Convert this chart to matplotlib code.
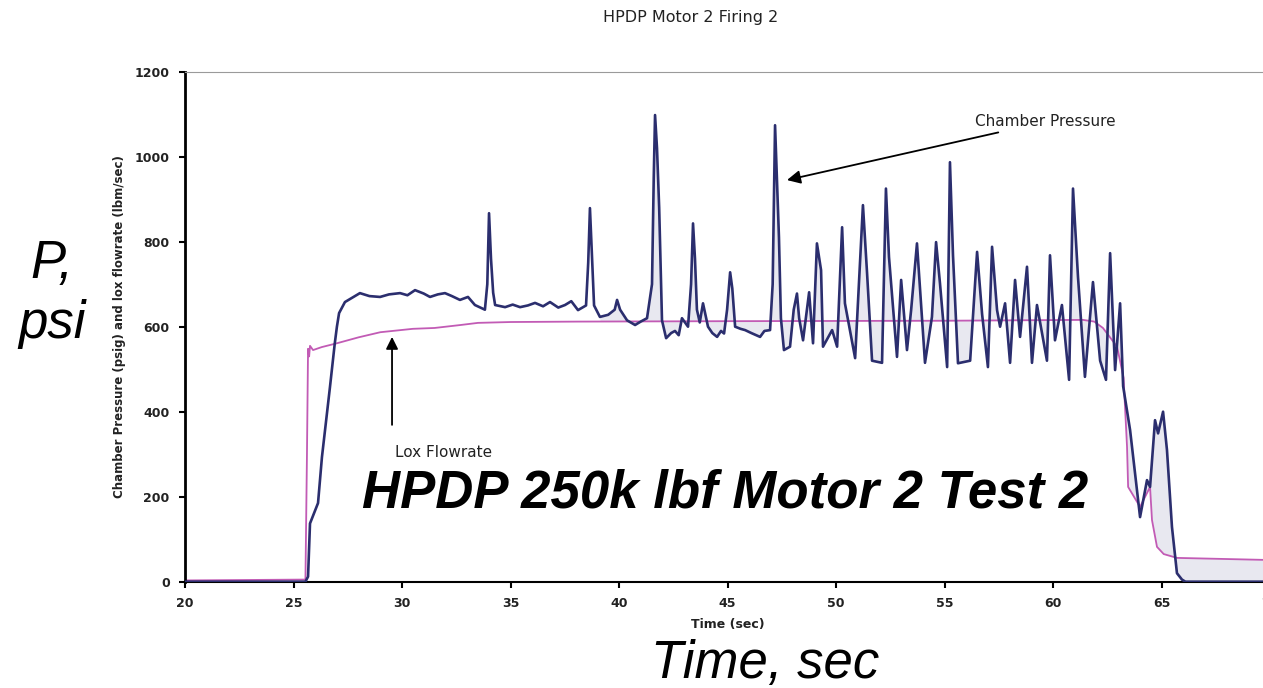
import matplotlib
matplotlib.use("Agg")

import matplotlib.pyplot as plt
import numpy as np

# ---------------------------------------------------------------------------
# Data (time in sec, value in psig / lbm/sec)
# ---------------------------------------------------------------------------
chamber_t = [
    20, 25.55, 25.67, 25.76, 26.13, 26.31, 26.68, 26.9, 27.0, 27.1, 27.37,
    28.06, 28.5, 28.99, 29.4, 29.91, 30.25, 30.6, 31.0, 31.29, 31.65, 31.98,
    32.3, 32.67, 33.04, 33.36, 33.82, 33.93, 34.01, 34.10, 34.20, 34.29,
    34.75, 35.1, 35.44, 35.8, 36.13, 36.5, 36.82, 37.2, 37.51, 37.8, 38.11,
    38.48, 38.58, 38.66, 38.75, 38.85, 39.12, 39.5, 39.8, 39.91, 40.05,
    40.37, 40.74, 41.0, 41.29, 41.52, 41.60, 41.66, 41.75, 41.85, 41.98,
    42.17, 42.4, 42.58, 42.75, 42.90, 43.18, 43.32, 43.41, 43.50, 43.59,
    43.72, 43.87, 44.10, 44.30, 44.52, 44.70, 44.84, 44.98, 45.12, 45.22,
    45.35, 45.6, 45.81, 46.1, 46.5, 46.7, 46.96, 47.08, 47.19, 47.28, 47.37,
    47.46, 47.60, 47.88, 48.05, 48.20, 48.30, 48.48, 48.76, 48.94, 49.12,
    49.31, 49.40, 49.82, 50.05, 50.28, 50.41, 50.88, 51.24, 51.43, 51.66,
    52.12, 52.30, 52.44, 52.81, 53.00, 53.27, 53.46, 53.73, 54.10, 54.42,
    54.61, 54.79, 55.12, 55.25, 55.39, 55.62, 56.18, 56.50, 56.73, 57.00,
    57.19, 57.42, 57.56, 57.79, 58.02, 58.25, 58.48, 58.80, 59.03, 59.26,
    59.72, 59.86, 60.09, 60.41, 60.74, 60.92, 61.15, 61.47, 61.84, 62.17,
    62.44, 62.63, 62.86, 63.09, 63.23, 63.55, 64.01, 64.33, 64.47, 64.70,
    64.84, 65.07, 65.25, 65.48, 65.71, 65.94, 66.1, 70,
]
chamber_p = [
    0, 0, 12, 137, 185, 293, 458, 560, 600, 632, 658,
    679, 672, 670, 676, 679, 674, 686, 678, 670, 676, 679,
    672, 663, 670, 651, 640, 700, 867, 760, 680, 651,
    646, 652, 646, 650, 656, 648, 658, 645, 651, 660, 639,
    650, 750, 879, 770, 650, 623, 628, 640, 663, 640,
    615, 604, 612, 620, 700, 950, 1098, 1020, 880, 615,
    573, 585, 590, 580, 620, 600, 700, 843, 760, 640,
    610, 655, 600, 585, 576, 590, 584, 640, 728, 690,
    600, 595, 592, 585, 576, 590, 592, 700, 1074, 940, 810,
    620, 545, 553, 640, 678, 620, 568, 681, 561, 796,
    733, 553, 592, 553, 834, 655, 526, 886, 726, 520,
    515, 925, 764, 529, 710, 545, 639, 796, 515, 623,
    799, 702, 505, 987, 768, 514, 520, 776, 630, 505,
    788, 639, 600, 655, 515, 710, 576, 741, 515, 651,
    520, 768, 568, 651, 475, 925, 717, 482, 705, 520,
    475, 773, 498, 655, 460, 357, 152, 239, 223, 380,
    349, 400, 310, 129, 20, 5, 0, 0,
]

lox_t = [
    20, 25.55, 25.62, 25.67, 25.72, 25.76, 25.9, 26.3, 27.0, 28.0, 29.0,
    30.5, 31.5, 32.7, 33.5, 35.0, 38.1, 45, 55, 61.38, 61.9, 62.30, 62.95,
    63.25, 63.41, 63.46, 64.01, 64.47, 64.56, 64.79, 65.1, 65.71, 70,
]
lox_v = [
    3, 5, 300, 548, 530, 555, 545, 552, 561, 575, 587,
    595, 597, 604, 609, 611, 612, 613, 614, 616, 612, 597, 553,
    480, 317, 223, 176, 223, 145, 82, 65, 56, 51,
]

x_ticks = list(range(20, 75, 5))
y_ticks = list(range(0, 1400, 200))

NAVY = "#2b2e6e"
PINK = "#c25bb5"
FILL = "#e8e8f0"

# ---------------------------------------------------------------------------
# Figure
# ---------------------------------------------------------------------------
fig = plt.figure(figsize=(12.63, 6.88), dpi=100)
ax = fig.add_axes([0.14648, 0.15451, 0.8591, 0.74128])

# shaded band between the two traces (burn region)
grid = np.union1d(chamber_t, lox_t)
c_i = np.interp(grid, chamber_t, chamber_p)
l_i = np.interp(grid, lox_t, lox_v)
ax.fill_between(grid, c_i, l_i, where=grid >= 39, color=FILL, lw=0,
                interpolate=True, zorder=1)

ax.plot(lox_t, lox_v, color=PINK, lw=1.3, zorder=2)
ax.plot(chamber_t, chamber_p, color=NAVY, lw=1.9, zorder=3)

ax.set_xlim(20, 70)
ax.set_ylim(0, 1200)
ax.set_xticks(x_ticks)
ax.set_yticks(y_ticks)
ax.tick_params(axis="both", direction="out", length=4, width=1.5,
               labelsize=9, pad=7)
for lbl in ax.get_xticklabels() + ax.get_yticklabels():
    lbl.set_fontweight("bold")
    lbl.set_color("#222222")

ax.spines["right"].set_visible(False)
ax.spines["left"].set_linewidth(2)
ax.spines["bottom"].set_linewidth(1.5)
ax.spines["top"].set_color("#9a9a9a")
ax.spines["top"].set_linewidth(0.8)
ax.spines["top"].set_linestyle((0, (2, 1)))

ax.set_ylabel("Chamber Pressure (psig) and lox flowrate (lbm/sec)",
              fontsize=8.5, fontweight="bold", labelpad=6, color="#222222")
ax.set_xlabel("Time (sec)", fontsize=9, fontweight="bold", labelpad=6,
              color="#222222")

fig.text(0.5465, 0.968, "HPDP Motor 2 Firing 2", ha="center", va="baseline",
         fontsize=11.5, color="#222222")

# annotations
ax.annotate("Chamber Pressure", xy=(47.74, 945), xytext=(56.4, 1082),
            ha="left", va="center", fontsize=11, color="#222222",
            arrowprops=dict(arrowstyle="-|>", color="black", lw=1.3,
                            mutation_scale=20, shrinkA=1, shrinkB=0))
ax.annotate("", xy=(29.54, 576), xytext=(29.54, 369),
            arrowprops=dict(arrowstyle="-|>", color="black", lw=1.3,
                            mutation_scale=18, shrinkA=0, shrinkB=0))
ax.text(29.68, 305, "Lox Flowrate", ha="left", va="center", fontsize=11,
        color="#222222")

# large overlay labels
big = dict(family="Liberation Sans", fontsize=38, style="italic",
           color="black")
fig.text(52 / 1263, 1 - 278 / 688, "P,", ha="center", va="baseline", **big)
fig.text(52 / 1263, 1 - 338 / 688, "psi", ha="center", va="baseline", **big)
fig.text(765 / 1263, 1 - 678 / 688, "Time, sec", ha="center",
         va="baseline", **big)
fig.text(725 / 1263, 1 - 508 / 688, "HPDP 250k lbf Motor 2 Test 2",
         ha="center", va="baseline", family="Liberation Sans", fontsize=38,
         style="italic", fontweight="bold", color="black")

fig.savefig("out.png", dpi=100, facecolor="white")
